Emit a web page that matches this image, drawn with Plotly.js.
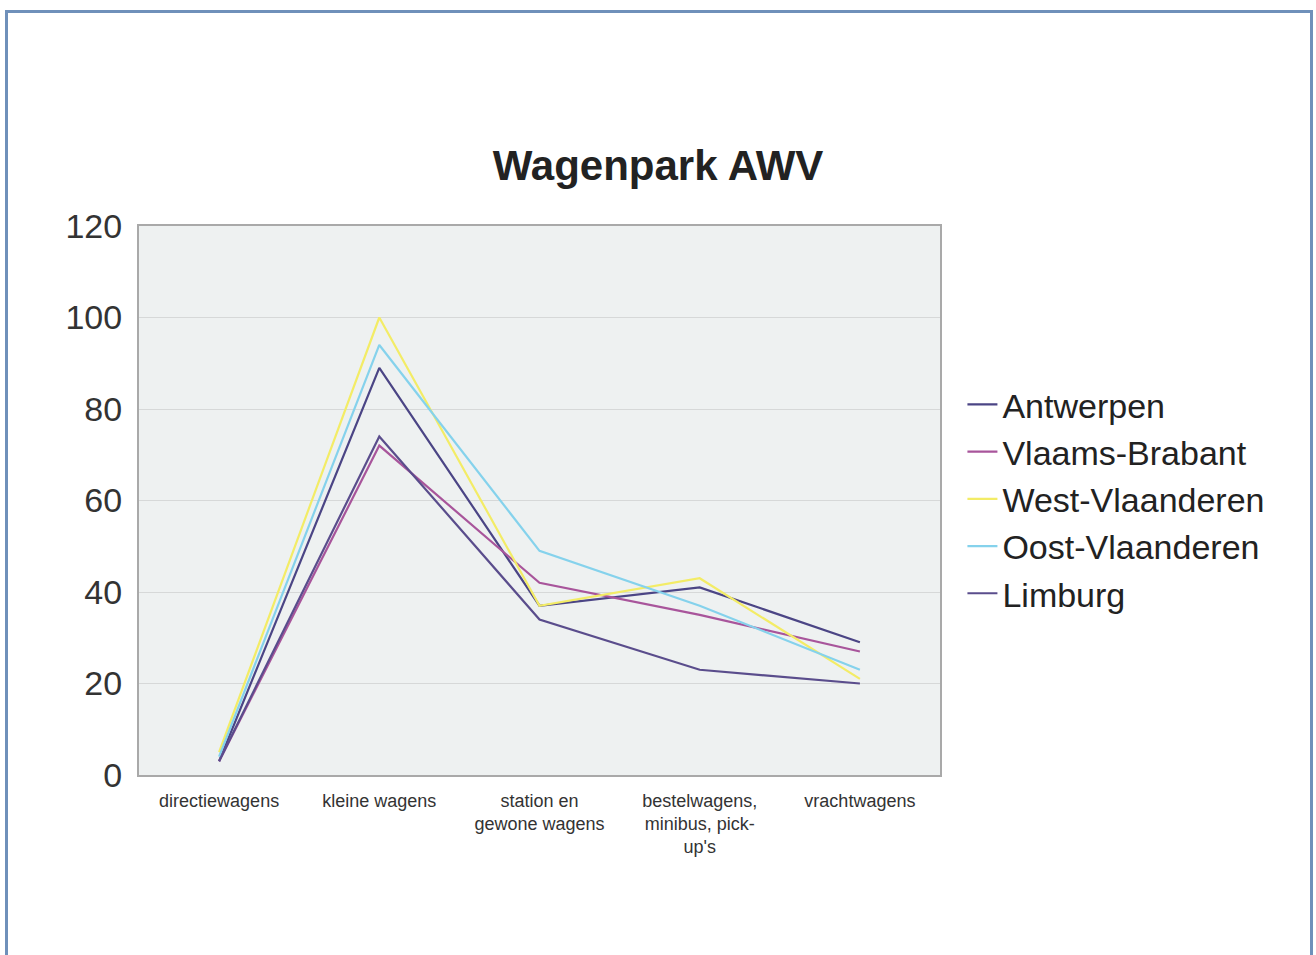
<!DOCTYPE html>
<html>
<head>
<meta charset="utf-8">
<script src="https://cdn.plot.ly/plotly-3.0.1.min.js"></script>
<style>
  html, body { margin: 0; padding: 0; background: #ffffff; }
  #wrap { position: relative; width: 1316px; height: 955px; overflow: hidden; }
  #chart { position: absolute; left: 0; top: 0; width: 1316px; height: 955px; }
  #frame { position: absolute; left: 5px; top: 10px; width: 1302px; height: 960px;
           border: 3px solid #6f90ba; pointer-events: none; }
</style>
</head>
<body>
<div id="wrap">
  <div id="chart"></div>
  <div id="frame"></div>
</div>
<script>
const categories = ["directiewagens", "kleine wagens", "station en<br>gewone wagens", "bestelwagens,<br>minibus, pick-<br>up's", "vrachtwagens"];
const antwerpen = [3, 89, 37, 41, 29];
const vlaamsBrabant = [3, 72, 42, 35, 27];
const westVlaanderen = [5, 100, 37, 43, 21];
const oostVlaanderen = [4, 94, 49, 37, 23];
const limburg = [3, 74, 34, 23, 20];
const yTicks = [0, 20, 40, 60, 80, 100, 120];

const seriesNames = ["Antwerpen", "Vlaams-Brabant", "West-Vlaanderen", "Oost-Vlaanderen", "Limburg"];
const seriesValues = [antwerpen, vlaamsBrabant, westVlaanderen, oostVlaanderen, limburg];
const seriesColors = ["#4b4585", "#a8559b", "#f3ec66", "#85d2ec", "#5a4d8c"];

const traces = seriesNames.map((n, i) => ({
  type: "scatter", mode: "lines", name: n,
  x: categories, y: seriesValues[i],
  line: { color: seriesColors[i], width: 2.2 }
}));

const layout = {
  width: 1316, height: 955,
  paper_bgcolor: "rgba(0,0,0,0)",
  plot_bgcolor: "#eef1f1",
  margin: { l: 139, r: 376, t: 226, b: 180, pad: 0 },
  font: { family: "Liberation Sans, Arial, sans-serif", color: "#222" },
  title: { text: "<b>Wagenpark AWV</b>", font: { size: 42, color: "#222" },
           x: 0.5, xref: "container", xanchor: "center", y: 0.827, yref: "container", yanchor: "middle" },
  xaxis: {
    type: "category", range: [-0.5, 4.5],
    showgrid: false, zeroline: false,
    showline: true, linecolor: "#a9a9a9", linewidth: 2, mirror: true,
    ticks: "", ticklabelstandoff: 8, tickfont: { size: 18, color: "#333" }
  },
  yaxis: {
    range: [0, 120], tickvals: yTicks, ticktext: yTicks.map(String),
    showgrid: true, gridcolor: "#d6d8d8", gridwidth: 1,
    zeroline: false, showline: true, linecolor: "#a9a9a9", linewidth: 2, mirror: true,
    ticks: "", ticklabelstandoff: 8, tickfont: { size: 34, color: "#333" }
  },
  legend: {
    x: 1.028, xanchor: "left", y: 0.503, yanchor: "middle",
    font: { size: 34, color: "#222" }, bgcolor: "rgba(255,255,255,0)",
    itemwidth: 30, tracegroupgap: 0
  },
  showlegend: true
};

Plotly.newPlot("chart", traces, layout, { displayModeBar: false, staticPlot: true });
</script>
</body>
</html>
